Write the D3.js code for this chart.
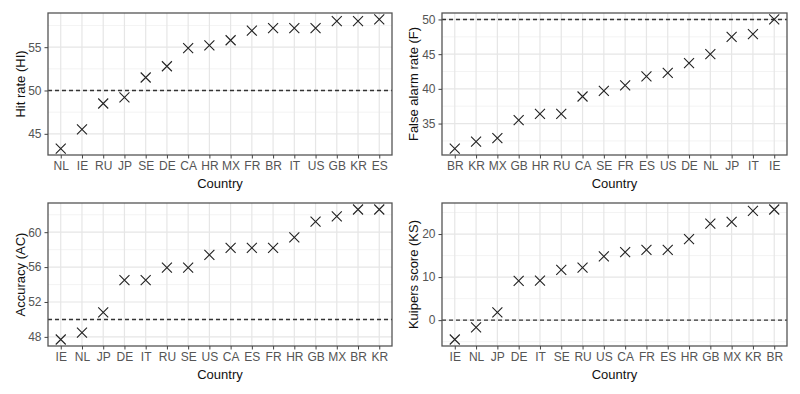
<!DOCTYPE html>
<html><head><meta charset="utf-8">
<script src="https://cdn.jsdelivr.net/npm/d3@7"></script>
<style>body{margin:0;background:#fff}svg{display:block}text{font-family:"Liberation Sans",Arial,sans-serif}</style>
</head><body>
<svg id="c" width="800" height="394"></svg>
<script>
// Panel 1: Hit rate
const hiCountries = ["NL","IE","RU","JP","SE","DE","CA","HR","MX","FR","BR","IT","US","GB","KR","ES"];
const hiValues = [43.3,45.5,48.5,49.2,51.5,52.8,54.9,55.2,55.8,56.9,57.2,57.2,57.2,58.0,58.0,58.2];
const hiTicks = [45,50,55];
// Panel 2: False alarm rate
const faCountries = ["BR","KR","MX","GB","HR","RU","CA","SE","FR","ES","US","DE","NL","JP","IT","IE"];
const faValues = [31.4,32.4,32.9,35.5,36.4,36.4,38.9,39.7,40.5,41.8,42.3,43.7,45.0,47.5,47.9,50.0];
const faTicks = [35,40,45,50];
// Panel 3: Accuracy
const acCountries = ["IE","NL","JP","DE","IT","RU","SE","US","CA","ES","FR","HR","GB","MX","BR","KR"];
const acValues = [47.7,48.5,50.8,54.5,54.5,55.95,55.95,57.4,58.2,58.2,58.2,59.4,61.2,61.8,62.6,62.6];
const acTicks = [48,52,56,60];
// Panel 4: Kuipers score
const ksCountries = ["IE","NL","JP","DE","IT","SE","RU","US","CA","FR","ES","HR","GB","MX","KR","BR"];
const ksValues = [-4.5,-1.7,1.8,9.1,9.2,11.7,12.2,14.8,15.8,16.3,16.3,18.8,22.4,22.8,25.4,25.7];
const ksTicks = [0,10,20];

const panels = [
  {cats:hiCountries, vals:hiValues, ticks:hiTicks, ref:50, ylab:"Hit rate (HI)", box:[48,13,392,155], ytx:20},
  {cats:faCountries, vals:faValues, ticks:faTicks, ref:50, ylab:"False alarm rate (F)", box:[442,13,787,155], ytx:413},
  {cats:acCountries, vals:acValues, ticks:acTicks, ref:50, ylab:"Accuracy (AC)", box:[48,203,392,346], ytx:20},
  {cats:ksCountries, vals:ksValues, ticks:ksTicks, ref:0, ylab:"Kuipers score (KS)", box:[442,203,787,346], ytx:413}
];

const svg = d3.select("#c");
panels.forEach(p => {
  const [x0,y0,x1,y1] = p.box;
  const x = d3.scalePoint().domain(p.cats).range([x0,x1]).padding(0.6);
  const mn = d3.min(p.vals), mx = d3.max(p.vals), pad = (mx-mn)*0.05;
  const y = d3.scaleLinear().domain([mn-pad, mx+pad]).range([y1,y0]);
  const g = svg.append("g");
  // minor grid
  const step = p.ticks[1]-p.ticks[0];
  const minors = [];
  for (let v = p.ticks[0]-step/2; v <= y.domain()[1]; v += step) if (v >= y.domain()[0]) minors.push(v);
  g.selectAll(".mn").data(minors).enter().append("line")
    .attr("x1",x0).attr("x2",x1).attr("y1",d=>y(d)).attr("y2",d=>y(d))
    .attr("stroke","#F0F0F0").attr("stroke-width",0.8);
  // major grid
  g.selectAll(".mj").data(p.ticks).enter().append("line")
    .attr("x1",x0).attr("x2",x1).attr("y1",d=>y(d)).attr("y2",d=>y(d))
    .attr("stroke","#E6E6E6").attr("stroke-width",1.2);
  g.selectAll(".vx").data(p.cats).enter().append("line")
    .attr("x1",d=>x(d)).attr("x2",d=>x(d)).attr("y1",y0).attr("y2",y1)
    .attr("stroke","#E6E6E6").attr("stroke-width",1.2);
  // reference line
  g.append("line").attr("x1",x0).attr("x2",x1).attr("y1",y(p.ref)).attr("y2",y(p.ref))
    .attr("stroke","#333").attr("stroke-width",1.4).attr("stroke-dasharray","4,3");
  // points (crosses)
  const s = 5;
  g.selectAll(".pt").data(p.vals).enter().append("path")
    .attr("d",(d,i)=>{const cx=x(p.cats[i]), cy=y(d);
      return `M${cx-s},${cy-s}L${cx+s},${cy+s}M${cx-s},${cy+s}L${cx+s},${cy-s}`;})
    .attr("stroke","#222").attr("stroke-width",1.1).attr("fill","none");
  // border
  g.append("rect").attr("x",x0).attr("y",y0).attr("width",x1-x0).attr("height",y1-y0)
    .attr("fill","none").attr("stroke","#555").attr("stroke-width",1.3);
  // axes
  const ya = g.append("g").attr("transform",`translate(${x0},0)`)
    .call(d3.axisLeft(y).tickValues(p.ticks).tickSize(3.5).tickPadding(3));
  const xa = g.append("g").attr("transform",`translate(0,${y1})`)
    .call(d3.axisBottom(x).tickSize(3.5).tickPadding(3));
  [ya,xa].forEach(a=>{
    a.select(".domain").remove();
    a.selectAll(".tick line").attr("stroke","#444");
    a.selectAll(".tick text").attr("fill","#555").style("font-size","12px");
  });
  // titles
  g.append("text").attr("x",(x0+x1)/2).attr("y",y1+33).attr("text-anchor","middle")
    .style("font-size","13px").attr("fill","#111").text("Country");
  g.append("text").attr("transform",`translate(${p.ytx},${(y0+y1)/2}) rotate(-90)`)
    .attr("text-anchor","middle").attr("dy","0.35em")
    .style("font-size","13px").attr("fill","#111").text(p.ylab);
});
</script>
</body></html>
